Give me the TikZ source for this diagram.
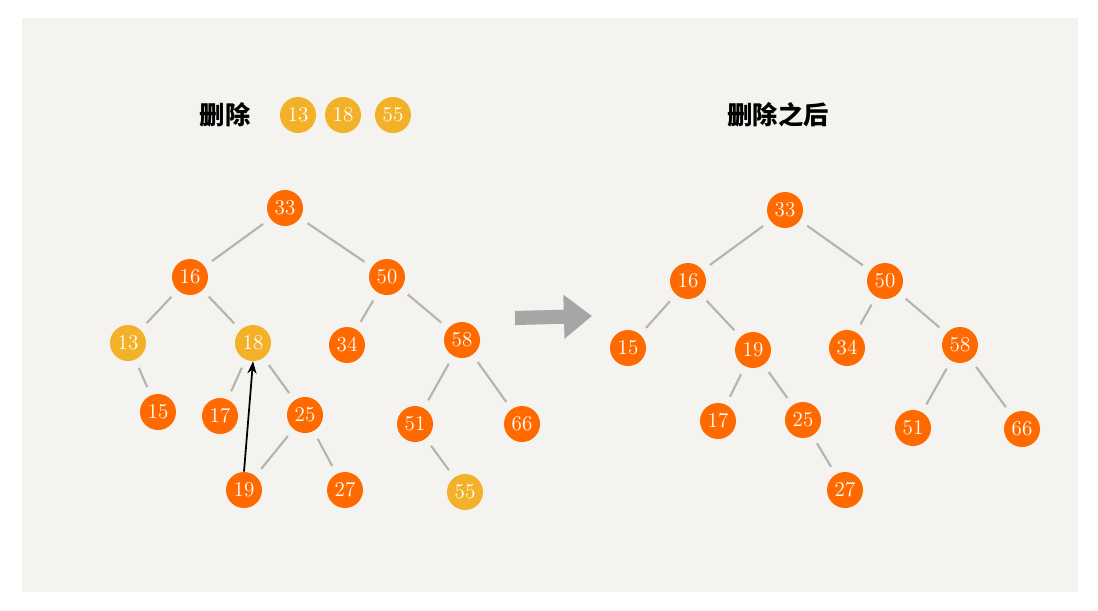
\documentclass[tikz,border=0pt]{standalone}
\usepackage{fontspec}
\newfontfamily\cjk{Noto Sans CJK SC}
\usetikzlibrary{arrows.meta}
\definecolor{bgc}{HTML}{F4F3EF}
\definecolor{hot}{HTML}{FF6A00}
\definecolor{gone}{HTML}{F3B12A}
\definecolor{edgec}{HTML}{B5B3AE}
\tikzset{
  key/.style={circle,fill=hot,text=white,minimum size=0.72cm,inner sep=0pt,font=\large},
  del/.style={key,fill=gone},
  link/.style={edgec,line width=1.2pt,shorten <=5pt,shorten >=5pt},
  title/.style={font=\cjk\Large\bfseries}
}
\begin{document}
\begin{tikzpicture}[x=0.02cm,y=-0.02cm]
  \useasboundingbox (0,0) rectangle (1098,610);
  \fill[bgc] (22,18) rectangle (1078,592);

  % before
  \node[title] (t1) at (225,115) {删除};
  \node[del] (d13) at (298,115) {13};
  \node[del] (d18) at (343,115) {18};
  \node[del] (d55) at (393,115) {55};

  \node[key] (a33) at (285,208) {33};
  \node[key] (a16) at (190,277) {16};
  \node[key] (a50) at (387,277) {50};
  \node[del] (a13) at (128,343) {13};
  \node[del] (a18) at (253,343) {18};
  \node[key] (a34) at (347,345) {34};
  \node[key] (a58) at (462,340) {58};
  \node[key] (a15) at (158,412) {15};
  \node[key] (a17) at (220,416) {17};
  \node[key] (a25) at (305,415) {25};
  \node[key] (a51) at (415,424) {51};
  \node[key] (a66) at (522,424) {66};
  \node[key] (a19) at (244,490) {19};
  \node[key] (a27) at (345,490) {27};
  \node[del] (a55) at (465,492) {55};
  \foreach \u/\v in {a33/a16,a33/a50,a16/a13,a16/a18,a13/a15,a18/a17,a18/a25,
                     a25/a19,a25/a27,a50/a34,a50/a58,a58/a51,a58/a66,a51/a55}
    \draw[link] (\u) -- (\v);
  \draw[-{Stealth[length=7pt]},line width=1pt] (a19.north) -- (a18.south);

  % arrow
  \coordinate (p) at (515,318);
  \coordinate (q) at (592,316);
  \draw[-{Triangle[length=16pt,width=24pt]},line width=8pt,color=gray!70] (p) -- (q);

  % after
  \node[title] (t2) at (778,115) {删除之后};
  \node[key] (b33) at (785,210) {33};
  \node[key] (b16) at (688,281) {16};
  \node[key] (b50) at (885,281) {50};
  \node[key] (b15) at (628,348) {15};
  \node[key] (b19) at (753,350) {19};
  \node[key] (b34) at (847,348) {34};
  \node[key] (b58) at (960,345) {58};
  \node[key] (b17) at (718,421) {17};
  \node[key] (b25) at (803,420) {25};
  \node[key] (b51) at (913,428) {51};
  \node[key] (b66) at (1022,429) {66};
  \node[key] (b27) at (845,490) {27};
  \foreach \u/\v in {b33/b16,b33/b50,b16/b15,b16/b19,b19/b17,b19/b25,b25/b27,
                     b50/b34,b50/b58,b58/b51,b58/b66}
    \draw[link] (\u) -- (\v);
\end{tikzpicture}
\end{document}
